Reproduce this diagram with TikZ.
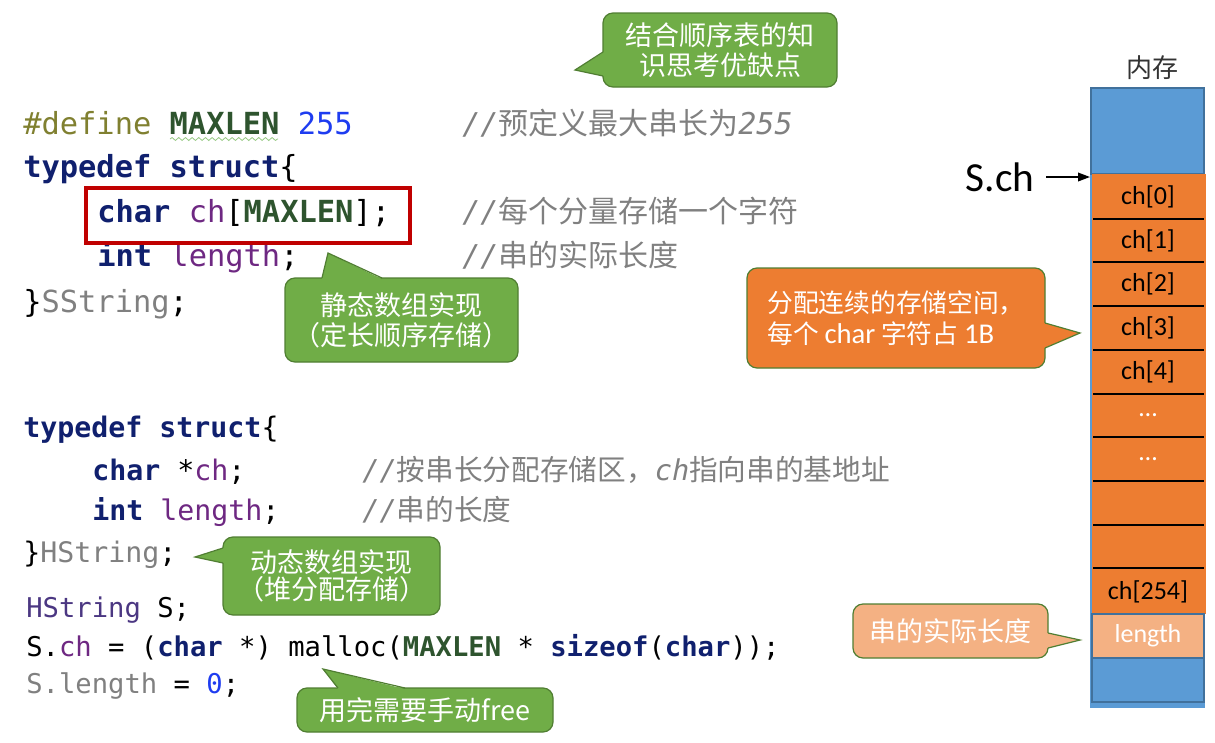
\documentclass[tikz,border=0pt]{standalone}
\usepackage{fontspec}
\setmainfont{Noto Sans CJK SC}
\newfontfamily\cjkf{Noto Sans CJK SC}
\newfontfamily\cjkk[Kerning=Off]{Noto Sans CJK SC}
\newfontfamily\monof{DejaVu Sans Mono}
\newfontfamily\calf{Carlito}
\usetikzlibrary{arrows.meta,decorations.pathmorphing}
\definecolor{kwc}{RGB}{16,32,110}
\definecolor{defc}{RGB}{128,128,48}
\definecolor{macc}{RGB}{46,84,46}
\definecolor{numc}{RGB}{30,60,240}
\definecolor{fldc}{RGB}{110,40,130}
\definecolor{gryc}{RGB}{128,128,128}
\definecolor{cmtc}{RGB}{128,128,128}
\definecolor{typc}{RGB}{75,55,130}
\definecolor{wavyc}{RGB}{150,200,130}
\definecolor{redc}{RGB}{192,0,0}
\definecolor{gfill}{RGB}{112,173,71}
\definecolor{gline}{RGB}{80,126,50}
\definecolor{ofill}{RGB}{237,125,49}
\definecolor{pfill}{RGB}{244,177,131}
\definecolor{bfill}{RGB}{91,155,213}
\definecolor{bline}{RGB}{65,113,156}
\def\pxu{0.75pt}
\newcommand\kw[1]{{\color{kwc}\bfseries #1}}
\newcommand\mc[1]{{\color{macc}\bfseries #1}}
\newcommand\fd[1]{{\color{fldc}#1}}
\newcommand\gy[1]{{\color{gryc}#1}}
\newcommand\ml[1]{{\monof\itshape #1}}
\newcommand\cl[1]{{\calf\fontsize{21.5}{23.5}\selectfont #1}}
\tikzset{
  codeA/.style={anchor=base west, inner sep=0, font=\monof\fontsize{22.8}{27}\selectfont},
  codeB/.style={anchor=base west, inner sep=0, font=\monof\fontsize{21.2}{26}\selectfont},
  codeC/.style={anchor=base west, inner sep=0, font=\monof\fontsize{20.4}{25}\selectfont},
  cmtA/.style={anchor=base west, inner sep=0, text=cmtc, font=\cjkf\fontsize{22.5}{27}\selectfont},
  cmtB/.style={anchor=base west, inner sep=0, text=cmtc, font=\cjkf\fontsize{21.5}{26}\selectfont},
  callout/.style={rounded corners=7.5pt, draw=gline, line width=0.9pt, text=white, align=center, inner sep=0, font=\cjkk\fontsize{20.25}{22.5}\selectfont},
  gcall/.style={callout, fill=gfill},
  ocall/.style={callout, fill=ofill},
  pcall/.style={callout, fill=pfill},
  ptrline/.style={draw=gline, line width=0.9pt},
  cell/.style={inner sep=0, font=\calf\fontsize{19.5}{20}\selectfont},
  divider/.style={line width=1.1pt, draw=black},
  membox/.style={draw=bline, line width=1pt},
}
\begin{document}
\begin{tikzpicture}[x=0.75pt,y=-0.75pt]
\useasboundingbox (0,0) rectangle (1215,743);

% ---------- code block 1 ----------
\node[codeA] (l1) at (23,134) {{\color{defc}\#define} \mc{MAXLEN} {\color{numc}255}};
\draw[wavyc, line width=0.6pt, decorate, decoration={snake, amplitude=1.1pt, segment length=5pt}] (170,139) -- (278,139);
\node[codeA] (l2) at (23,177) {\kw{typedef} \kw{struct}\{};
\node[codeA] (l3) at (97,222) {\kw{char} \fd{ch}[\mc{MAXLEN}];};
\node[codeA] (l4) at (97,266) {\kw{int} \fd{length};};
\node[codeA] (l5) at (23,312) {\}\gy{SString};};
\draw[redc, line width=3.6*\pxu] (86,188) rectangle (410,243);

\node[cmtA] (k1) at (462,134) {\ml{//}预定义最大串长为\ml{255}};
\node[cmtA] (k2) at (462,222) {\ml{//}每个分量存储一个字符};
\node[cmtA] (k3) at (462,266) {\ml{//}串的实际长度};

% ---------- code block 2 ----------
\node[codeB] (m1) at (23,437) {\kw{typedef} \kw{struct}\{};
\node[codeB] (m2) at (92,480) {\kw{char} *\fd{ch};};
\node[codeB] (m3) at (92,520) {\kw{int} \fd{length};};
\node[codeB] (m4) at (23,562) {\}\gy{HString};};
\node[cmtB] (k4) at (362,480) {\ml{//}按串长分配存储区，\ml{ch}指向串的基地址};
\node[cmtB] (k5) at (362,520) {\ml{//}串的长度};

% ---------- code block 3 ----------
\node[codeC] (n1) at (26,617) {{\color{typc}HString} S;};
\node[codeC] (n2) at (26,656) {S.\fd{ch} = (\kw{char} *) malloc(\mc{MAXLEN} * \kw{sizeof}(\kw{char}));};
\node[codeC] (n3) at (26,693) {\gy{S.length} = {\color{numc}0};};

% ---------- callouts ----------
\node[gcall, minimum width=234*\pxu, minimum height=74*\pxu] (c1) at (720,50) {结合顺序表的知\\识思考优缺点};
\coordinate (t1) at (575,70);
\fill[gfill] (604,52) -- (t1) -- (604,76);
\draw[ptrline] (603,52) -- (t1) -- (603,76);

\node[gcall, minimum width=233*\pxu, minimum height=84*\pxu] (c2) at (401.5,320) {静态数组实现\\（定长顺序存储）};
\coordinate (t2) at (328,253);
\fill[gfill] (322,279) -- (t2) -- (382,279);
\draw[ptrline] (322,278) -- (t2) -- (382,278);

\node[ocall, align=left, minimum width=298*\pxu, minimum height=100*\pxu, font=\cjkk\fontsize{19.3}{23.5}\selectfont] (c3) at (896,318) {分配连续的存储空间，\\每个 \cl{char} 字符占 \cl{1B}};
\coordinate (t3) at (1080,333);
\fill[ofill] (1044,323) -- (t3) -- (1044,348);
\draw[ptrline] (1045,323) -- (t3) -- (1045,348);

\node[gcall, minimum width=217*\pxu, minimum height=78*\pxu, font=\cjkk\fontsize{20.25}{20.5}\selectfont] (c4) at (331.5,576) {动态数组实现\\（堆分配存储）};
\coordinate (t4) at (195,557);
\fill[gfill] (224,548) -- (t4) -- (224,563);
\draw[ptrline] (223,548) -- (t4) -- (223,563);

\node[gcall, minimum width=256*\pxu, minimum height=44*\pxu] (c5) at (425,710) {用完需要手动free};
\coordinate (t5) at (323,669);
\fill[gfill] (338,689) -- (t5) -- (405,689);
\draw[ptrline] (338,688) -- (t5) -- (405,688);

\node[pcall, minimum width=195*\pxu, minimum height=54*\pxu] (c6) at (950.5,631) {串的实际长度};
\coordinate (t6) at (1080,640);
\fill[pfill] (1047,633) -- (t6) -- (1047,648);
\draw[ptrline] (1048,633) -- (t6) -- (1048,648);

% ---------- memory column ----------
\node[font=\cjkf\fontsize{19.5}{20}\selectfont, text=black!80, inner sep=0] (mem) at (1152,68) {内存};
\fill[bfill] (1090,88) rectangle (1205,708);
\draw[membox, fill=bfill] (1091,88) rectangle (1204,174);
\fill[ofill] (1092,174) rectangle (1206,614);
\foreach \y in {219,262,306,350,394,437,481,525,568}
  \draw[divider] (1093,\y) -- (1204,\y);
\draw[membox, fill=pfill] (1092,614) rectangle (1204,658);
\draw[membox, fill=bfill] (1092,658) rectangle (1204,702);

\node[cell] (ch0) at (1148,197) {ch[0]};
\node[cell] (ch1) at (1148,240.5) {ch[1]};
\node[cell] (ch2) at (1148,284) {ch[2]};
\node[cell] (ch3) at (1148,328) {ch[3]};
\node[cell] (ch4) at (1148,372) {ch[4]};
\node[cell, text=white] (d1) at (1148,415.5) {…};
\node[cell, text=white] (d2) at (1148,459) {…};
\node[cell] (ch254) at (1148,592) {ch[254]};
\node[cell, text=white] (len) at (1148,636) {length};

\node[font=\calf\fontsize{31}{31}\selectfont, inner sep=0, outer sep=9pt] (sch) at (1000,177) {S.ch};
\coordinate (chtop) at (1090,177);
\draw[line width=1.1pt, -{Triangle[length=9pt,width=6.5pt]}] (sch) -- (chtop);
\end{tikzpicture}
\end{document}
